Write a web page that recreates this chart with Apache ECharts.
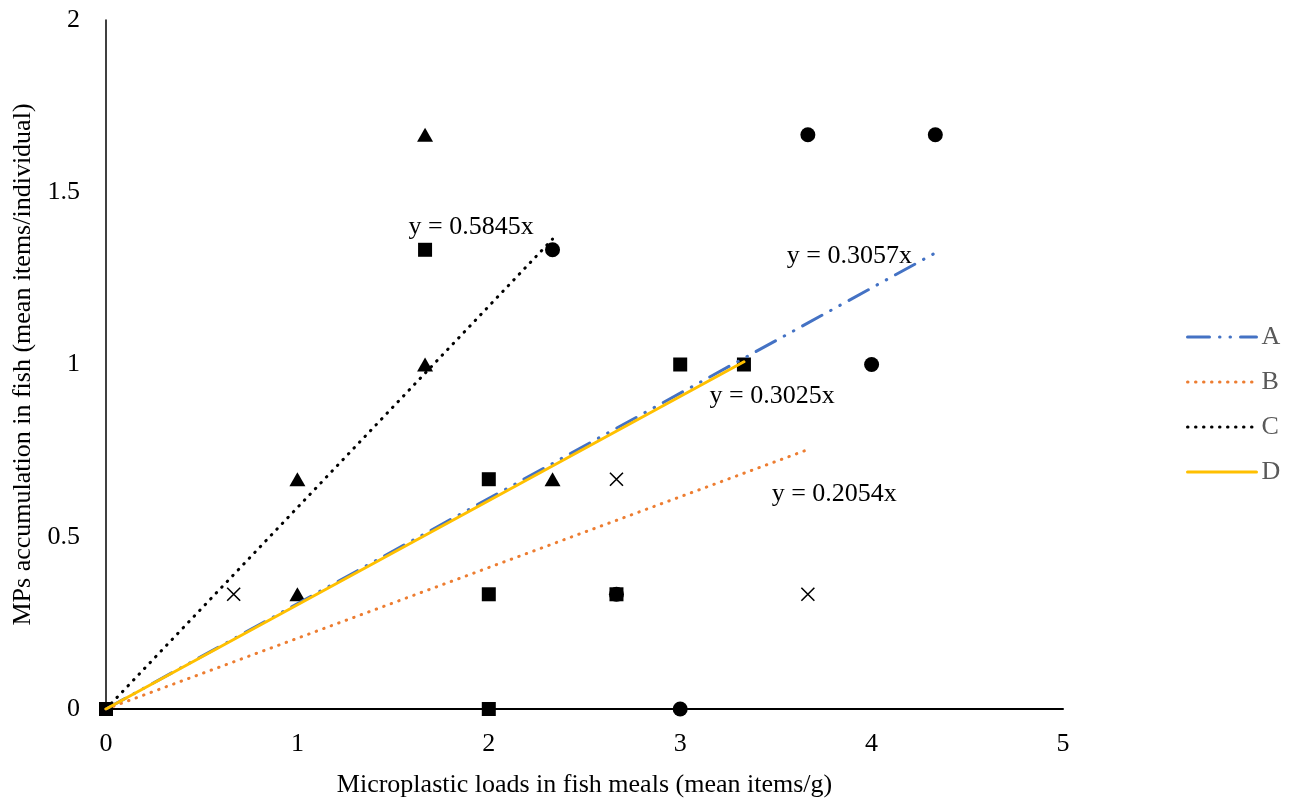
<!DOCTYPE html>
<html>
<head>
<meta charset="utf-8">
<script src="https://cdn.jsdelivr.net/npm/echarts@6/dist/echarts.min.js"></script>
<style>
html,body{margin:0;padding:0;background:#fff;}
#c{width:1294px;height:806px;}
</style>
</head>
<body>
<div id="c"></div>
<script>
// Data
const triangles = [[1.667,1.667],[1.667,1.0],[1.0,0.667],[1.0,0.333],[2.333,0.667]];
const squares = [[0,0],[1.667,1.333],[2.0,0.667],[2.0,0.333],[2.0,0],[3.0,1.0],[3.333,1.0],[2.667,0.333]];
const circles = [[2.333,1.333],[3.667,1.667],[4.333,1.667],[4.0,1.0],[3.0,0],[2.667,0.333]];
const crosses = [[0.667,0.333],[2.667,0.667],[3.667,0.333]];

const trendA = [[0,0],[4.333,1.324]];
const trendB = [[0,0],[3.667,0.753]];
const trendC = [[0,0],[2.333,1.364]];
const trendD = [[0,0],[3.333,1.008]];

const eqLabels = [
  {name:'y = 0.5845x', value:[1.908,1.399]},
  {name:'y = 0.3057x', value:[3.884,1.315]},
  {name:'y = 0.3025x', value:[3.48,0.909]},
  {name:'y = 0.2054x', value:[3.805,0.624]}
];

const xTicks = [0,1,2,3,4,5];
const yTicks = [0,0.5,1,1.5,2];

const font = 'Liberation Serif';
const chart = echarts.init(document.getElementById('c'));
const markerStyle = {color:'#000',opacity:1};
chart.setOption({
  animation:false,
  backgroundColor:'#fff',
  textStyle:{fontFamily:font},
  grid:{left:106,right:231,top:20,bottom:97},
  legend:{
    data:['A','B','C','D'],
    orient:'vertical',
    left:1181,
    top:319,
    itemWidth:69,
    itemHeight:14,
    itemGap:19,
    itemStyle:{opacity:0},
    lineStyle:{width:3},
    textStyle:{fontFamily:font,fontSize:26,color:'#595959',padding:[0,0,0,0]}
  },
  xAxis:{
    type:'value',min:xTicks[0],max:xTicks[xTicks.length-1],interval:1,
    name:'Microplastic loads in fish meals (mean items/g)',
    nameLocation:'middle',nameGap:63,
    nameTextStyle:{fontFamily:font,fontSize:26,color:'#000'},
    axisLine:{lineStyle:{color:'#000',width:2}},
    axisTick:{show:false},
    splitLine:{show:false},
    axisLabel:{fontFamily:font,fontSize:26,color:'#000',margin:22}
  },
  yAxis:{
    type:'value',min:yTicks[0],max:yTicks[yTicks.length-1],interval:0.5,
    name:'MPs accumulation in fish (mean items/individual)',
    nameLocation:'middle',nameGap:66,
    nameTextStyle:{fontFamily:font,fontSize:26,color:'#000'},
    axisLine:{lineStyle:{color:'#000',width:1.5}},
    axisTick:{show:false},
    splitLine:{show:false},
    axisLabel:{fontFamily:font,fontSize:26,color:'#000',margin:26}
  },
  series:[
    {type:'scatter',name:'tri',data:triangles,symbol:'triangle',symbolSize:[16,14],itemStyle:markerStyle,z:2},
    {type:'scatter',name:'sq',data:squares,symbol:'rect',symbolSize:14,itemStyle:markerStyle,z:2},
    {type:'scatter',name:'cir',data:circles,symbol:'circle',symbolSize:15,itemStyle:markerStyle,z:3},
    {type:'scatter',name:'x',data:crosses,symbol:'path://M0,0L10,10M10,0L0,10',symbolSize:13,
      itemStyle:{color:'none',borderColor:'#000',borderWidth:1.6,opacity:1},z:2},
    {type:'line',name:'A',data:trendA,symbol:'none',z:5,
      lineStyle:{color:'#4472C4',width:3,type:[22,10,0.5,10,0.5,10],cap:'round'},itemStyle:{color:'#4472C4'}},
    {type:'line',name:'B',data:trendB,symbol:'none',z:5,
      lineStyle:{color:'#ED7D31',width:3,type:[0.5,7.5],cap:'round'},itemStyle:{color:'#ED7D31'}},
    {type:'line',name:'C',data:trendC,symbol:'none',z:5,
      lineStyle:{color:'#000',width:3,type:[0.5,7.5],cap:'round'},itemStyle:{color:'#000'}},
    {type:'line',name:'D',data:trendD,symbol:'none',z:6,
      lineStyle:{color:'#FFC000',width:3,cap:'round'},itemStyle:{color:'#FFC000'}},
    {type:'scatter',name:'eq',data:eqLabels,symbolSize:0,z:7,silent:true,itemStyle:{opacity:1,color:'#000'},
      label:{show:true,position:'inside',formatter:p=>p.name,fontFamily:font,fontSize:26,color:'#000',opacity:1,textBorderWidth:0}}
  ]
});
</script>
</body>
</html>
